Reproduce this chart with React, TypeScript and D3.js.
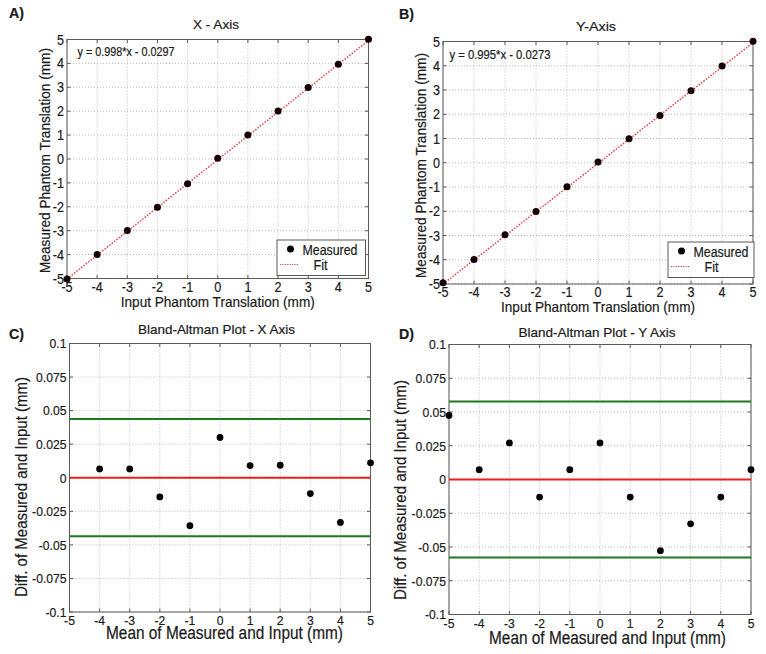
import React from "react";
import * as d3 from "d3";

// ---------- data ----------
const inputPos = [-5, -4, -3, -2, -1, 0, 1, 2, 3, 4, 5];
const measuredX = [-5.02, -3.993, -2.993, -2.014, -1.036, 0.03, 1.009, 2.009, 2.988, 3.967, 5.011];
const measuredY = [-4.953, -3.993, -2.973, -2.013, -0.993, 0.027, 0.987, 1.947, 2.967, 3.987, 5.007];
const fitX = { slope: 0.998, intercept: -0.0297 };
const fitY = { slope: 0.995, intercept: -0.0273 };

const baMeanX = [-4, -3, -2, -1, 0, 1, 2, 3, 4, 5];
const baDiffX = [0.0066, 0.0066, -0.0143, -0.0357, 0.03, 0.0091, 0.0093, -0.0118, -0.0333, 0.0111];
const baLinesX = { mean: 0, upper: 0.0438, lower: -0.0435 };

const baMeanY = [-5, -4, -3, -2, -1, 0, 1, 2, 3, 4, 5];
const baDiffY = [0.0475, 0.0073, 0.0271, -0.013, 0.0073, 0.0271, -0.013, -0.0527, -0.0328, -0.013, 0.0073];
const baLinesY = { mean: 0, upper: 0.0578, lower: -0.0577 };

const xTicks = [-5, -4, -3, -2, -1, 0, 1, 2, 3, 4, 5];
const yTicksReg = [-5, -4, -3, -2, -1, 0, 1, 2, 3, 4, 5];
const yTicksBA = [-0.1, -0.075, -0.05, -0.025, 0, 0.025, 0.05, 0.075, 0.1];

const FONT = "'Liberation Sans', Arial, Helvetica, sans-serif";
const BOX = "#5a5a5a";
const GRID = "#a8a8a8";
const TXT = "#1a1a1a";

function SText({ x, y, rot = 0, sx = 0.9, size = 13, anchor = "start", dy, weight, children }: any) {
  return (
    <text
      transform={`translate(${x},${y}) rotate(${rot}) scale(${sx},1)`}
      fontSize={size}
      textAnchor={anchor}
      dy={dy}
      fontWeight={weight}
      fill={TXT}
      stroke={TXT}
      strokeWidth={0.2}
      fontFamily={FONT}
    >
      {children}
    </text>
  );
}

function LText({ x, y, rot = 0, size = 13, anchor = "middle", len, children }: any) {
  return (
    <text
      transform={`translate(${x},${y}) rotate(${rot})`}
      fontSize={size}
      textAnchor={anchor}
      fill={TXT}
      stroke={TXT}
      strokeWidth={0.2}
      fontFamily={FONT}
      textLength={len}
      lengthAdjust="spacingAndGlyphs"
    >
      {children}
    </text>
  );
}

function Frame({ l, t, r, b, xs, ys, yTicks, yFmt, tickSize }: any) {
  const tl = 3.5;
  return (
    <g>
      {xTicks.map((v) => (
        <line key={"gx" + v} x1={xs(v)} x2={xs(v)} y1={t} y2={b} stroke={GRID} strokeWidth={0.8} strokeDasharray="1,2" />
      ))}
      {yTicks.map((v: number) => (
        <line key={"gy" + v} x1={l} x2={r} y1={ys(v)} y2={ys(v)} stroke={GRID} strokeWidth={0.8} strokeDasharray="1,2" />
      ))}
      <rect x={l} y={t} width={r - l} height={b - t} fill="none" stroke={BOX} strokeWidth={1} />
      {xTicks.map((v) => (
        <g key={"tx" + v}>
          <line x1={xs(v)} x2={xs(v)} y1={b} y2={b - tl} stroke={BOX} />
          <line x1={xs(v)} x2={xs(v)} y1={t} y2={t + tl} stroke={BOX} />
          <SText x={xs(v)} y={b + 13} anchor="middle" size={tickSize}>{String(v)}</SText>
        </g>
      ))}
      {yTicks.map((v: number) => (
        <g key={"ty" + v}>
          <line x1={l} x2={l + tl} y1={ys(v)} y2={ys(v)} stroke={BOX} />
          <line x1={r} x2={r - tl} y1={ys(v)} y2={ys(v)} stroke={BOX} />
          <SText x={l - 3} y={ys(v)} anchor="end" dy="0.36em" size={tickSize}>{yFmt(v)}</SText>
        </g>
      ))}
    </g>
  );
}

function RegPanel({ l, t, r, b, measured, fit, title, titleX, titleY, titleLen, eq, eqX, eqY, eqLen, ylab, legend }: any) {
  const xs = d3.scaleLinear().domain([-5, 5]).range([l, r]);
  const ys = d3.scaleLinear().domain([-5, 5]).range([b, t]);
  const line = d3.line<number>().x((d) => xs(d)).y((d) => ys(fit.slope * d + fit.intercept));
  const lg = legend;
  return (
    <g>
      <Frame l={l} t={t} r={r} b={b} xs={xs} ys={ys} yTicks={yTicksReg} yFmt={(v: number) => String(v)} tickSize={14} />
      <path d={line([-5, 5]) || ""} stroke="#e8404a" strokeWidth={1.5} strokeDasharray="1.5,1.5" fill="none" />
      {inputPos.map((v, i) => (
        <circle key={i} cx={xs(v)} cy={ys(measured[i])} r={3.5} fill="#140000" />
      ))}
      <LText x={eqX} y={eqY} size={12} anchor="start" len={eqLen}>{eq}</LText>
      <LText x={titleX} y={titleY} size={13.5} len={titleLen}>{title}</LText>
      <LText x={(l + r) / 2} y={b + 28} size={15} len={194}>Input Phantom Translation (mm)</LText>
      <LText x={ylab.x} y={ylab.y} rot={-90} size={15} len={225}>Measured Phantom Translation (mm)</LText>
      <rect x={lg.x1} y={lg.y1} width={lg.x2 - lg.x1} height={lg.y2 - lg.y1} fill="#fff" stroke={BOX} strokeWidth={1} />
      <circle cx={lg.x1 + 13.5} cy={lg.y1 + 9} r={3.5} fill="#000" />
      <LText x={lg.x1 + 25.5} y={lg.y1 + 14.5} size={14} anchor="start" len={55}>Measured</LText>
      <line x1={lg.x1 + 3} x2={lg.x1 + 22} y1={lg.y1 + 24.5} y2={lg.y1 + 24.5} stroke="#e8404a" strokeWidth={1.2} strokeDasharray="1.2,1.2" />
      <LText x={lg.x1 + 36.5} y={lg.y1 + 30} size={14} anchor="start" len={14}>Fit</LText>
    </g>
  );
}

function BAPanel({ l, t, r, b, means, diffs, lines, title, titleX, titleY, ylab, xlab }: any) {
  const xs = d3.scaleLinear().domain([-5, 5]).range([l, r]);
  const ys = d3.scaleLinear().domain([-0.1, 0.1]).range([b, t]);
  const fmt = (v: number) => String(+v.toFixed(3));
  return (
    <g>
      <Frame l={l} t={t} r={r} b={b} xs={xs} ys={ys} yTicks={yTicksBA} yFmt={fmt} tickSize={13.5} />
      <line x1={xs(-5)} x2={xs(5)} y1={ys(lines.upper)} y2={ys(lines.upper)} stroke="#1f7a1f" strokeWidth={2} />
      <line x1={xs(-5)} x2={xs(5)} y1={ys(lines.lower)} y2={ys(lines.lower)} stroke="#1f7a1f" strokeWidth={2} />
      <line x1={xs(-5)} x2={xs(5)} y1={ys(lines.mean)} y2={ys(lines.mean)} stroke="#ee1c1c" strokeWidth={2} />
      {means.map((m: number, i: number) => (
        <circle key={i} cx={xs(m)} cy={ys(diffs[i])} r={3.4} fill="#000" />
      ))}
      <LText x={titleX} y={titleY} size={13} len={157}>{title}</LText>
      <LText x={xlab.x} y={xlab.y} size={17.5} len={237}>Mean of Measured and Input (mm)</LText>
      <LText x={ylab.x} y={ylab.y} rot={-90} size={17} len={220}>Diff. of Measured and Input (mm)</LText>
    </g>
  );
}

export default function App() {
  return (
    <svg width={766} height={654} style={{ display: "block", position: "absolute", left: 0, top: 0, background: "#fff" }}>
      <rect x={0} y={0} width={766} height={654} fill="#fff" />
      <RegPanel
        l={67} t={39.5} r={368.5} b={278.5}
        measured={measuredX} fit={fitX}
        title="X - Axis" titleX={216} titleY={29} titleLen={46}
        eq="y = 0.998*x - 0.0297" eqX={77.5} eqY={56} eqLen={97}
        ylab={{ x: 50, y: 160.5 }}
        legend={{ x1: 277, y1: 240, x2: 365.5, y2: 275.5 }}
      />
      <RegPanel
        l={443} t={41.5} r={753} b={284}
        measured={measuredY} fit={fitY}
        title="Y-Axis" titleX={596} titleY={31} titleLen={40}
        eq="y = 0.995*x - 0.0273" eqX={449.5} eqY={58.5} eqLen={101}
        ylab={{ x: 425.5, y: 165.5 }}
        legend={{ x1: 668, y1: 242, x2: 754, y2: 277.5 }}
      />
      <BAPanel
        l={69.5} t={343.5} r={370.5} b={612}
        means={baMeanX} diffs={baDiffX} lines={baLinesX}
        title="Bland-Altman Plot - X Axis" titleX={216.5} titleY={334}
        ylab={{ x: 26.5, y: 487 }} xlab={{ x: 224.5, y: 639 }}
      />
      <BAPanel
        l={449} t={344.5} r={751} b={614.5}
        means={baMeanY} diffs={baDiffY} lines={baLinesY}
        title="Bland-Altman Plot - Y Axis" titleX={597} titleY={337}
        ylab={{ x: 406, y: 490 }} xlab={{ x: 607.5, y: 643.5 }}
      />
      <SText x={9} y={18} size={15} weight="bold" sx={0.95}>A)</SText>
      <SText x={399} y={19} size={15} weight="bold" sx={0.95}>B)</SText>
      <SText x={9} y={339} size={15} weight="bold" sx={0.95}>C)</SText>
      <SText x={399} y={339} size={15} weight="bold" sx={0.95}>D)</SText>
    </svg>
  );
}
